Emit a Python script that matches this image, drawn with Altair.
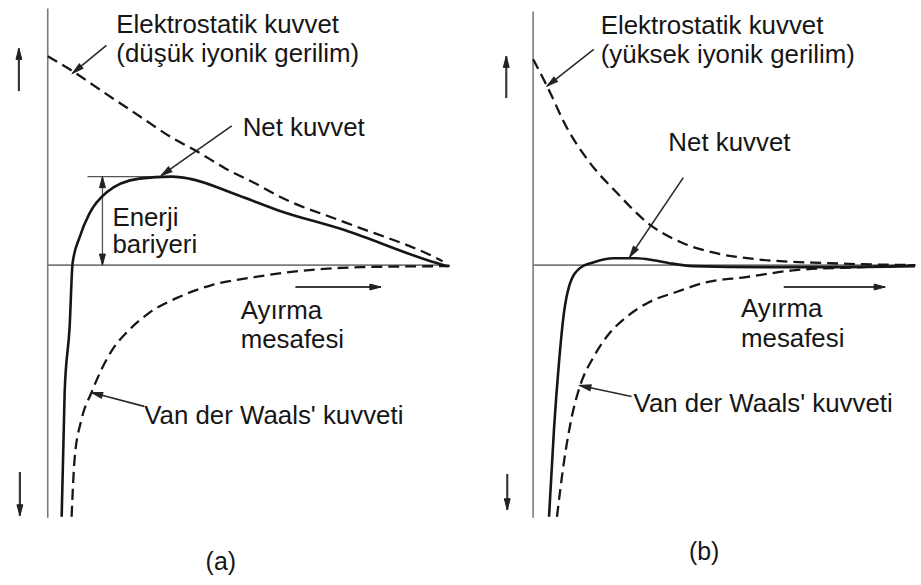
import math
import altair as alt
import pandas as pd

FONT = "Liberation Sans"
INK = "#161616"
AXIS_GREY = "#7a7a7a"

# Common vertical range: interaction energy (up = repulsion, down = attraction)
Y_DOMAIN = [-320, 265]

# ---------------- panel (a): low ionic strength ----------------
A_X_DOMAIN = [-48, 412]

a_elec_x = [0, 25, 59, 92, 125, 149, 179, 209, 235, 299, 389, 397]
a_elec_y = [210, 195, 172, 150, 128, 115, 97, 82, 68, 43, 8, 4]

a_net_x = [14, 17, 22, 25, 32, 42, 59, 92, 125, 142, 192, 232, 299, 382, 402]
a_net_y = [-253, -128, -62, 2, 28, 52, 73, 87, 89, 87, 70, 55, 35, 5, -1]

a_vdw_x = [24, 27, 34, 44, 54, 65, 82, 102, 132, 165, 202, 252, 315, 404]
a_vdw_y = [-253, -195, -155, -128, -105, -85, -65, -48, -32, -20, -13, -6, -2, -1]

a_axes = [(0, 258, 0, -254), (0, 0, 404, 0)]
a_barrier_top = [(40, 89, 127, 89)]
a_barrier_arrows = [(55, 45, 55, 89), (55, 45, 55, 0)]
a_leaders = [(59, 221, 25, 193), (185, 140, 114, 90), (97, -142, 44, -128)]
a_direction_arrows = [(-29, 175, -29, 218), (-28, -208, -28, -252), (249, -22, 335, -22)]

a_labels = ["Elektrostatik kuvvet", "(düşük iyonik gerilim)", "Net kuvvet",
            "Enerji", "bariyeri", "Ayırma", "mesafesi", "Van der Waals' kuvveti"]
a_label_x = [69, 69, 196, 65, 65, 194, 194, 97]
a_label_y = [233, 204, 130, 39, 12, -54, -83, -160]
a_caption = ("(a)", 174, -307)

# ---------------- panel (b): high ionic strength ----------------
B_X_DOMAIN = [-76, 385]

b_elec_x = [0, 14, 34, 57, 84, 117, 151, 184, 224, 297, 384]
b_elec_y = [207, 180, 138, 103, 73, 41, 22, 12, 6, 2, 0]

b_net_x = [16, 21, 26, 31, 36, 47, 61, 81, 104, 121, 137, 161, 231, 297, 384]
b_net_y = [-253, -165, -98, -48, -22, -3, 3, 7, 7, 5, 2, -1, -2, -2, -1]

b_vdw_x = [24, 31, 39, 47, 61, 74, 94, 117, 144, 171, 214, 264, 331, 384]
b_vdw_y = [-253, -198, -152, -122, -92, -72, -52, -37, -27, -18, -12, -5, -2, 0]

b_axes = [(0, 255, 0, -254), (0, 0, 385, 0)]
b_leaders = [(61, 217, 14, 180), (151, 88, 97, 8), (99, -132, 47, -121)]
b_direction_arrows = [(-27, 168, -27, 210), (-26, -210, -26, -246), (252, -22, 354, -22)]

b_labels = ["Elektrostatik kuvvet", "(yüksek iyonik gerilim)", "Net kuvvet",
            "Ayırma", "mesafesi", "Van der Waals' kuvveti"]
b_label_x = [68, 68, 136, 209, 209, 101]
b_label_y = [232, 203, 115, -52, -82, -148]
b_caption = ("(b)", 172, -296)

# arrowhead glyph with its tip at the anchor point, pointing up before rotation
ARROW_SHAPE = "M0,0L-0.4,1.5L0.4,1.5Z"


def segments_df(segs):
    return pd.DataFrame(segs, columns=["x", "y", "x2", "y2"])


def heads_df(segs):
    rows = []
    for x0, y0, x1, y1 in segs:
        ang = math.degrees(math.atan2(x1 - x0, y1 - y0)) % 360
        rows.append({"x": x1, "y": y1, "angle": ang})
    return pd.DataFrame(rows)


def curve_df(named):
    rows = []
    for name, xs, ys in named:
        for i, (x, y) in enumerate(zip(xs, ys)):
            rows.append({"series": name, "i": i, "x": x, "y": y})
    return pd.DataFrame(rows)


def panel(width, x_domain, elec, net, vdw, axes, thin_rules, double_arrows,
          leaders, dir_arrows, labels, caption):
    xs = alt.Scale(domain=x_domain, nice=False, zero=False)
    ys = alt.Scale(domain=Y_DOMAIN, nice=False, zero=False)
    X = alt.X("x:Q", scale=xs, axis=None)
    Y = alt.Y("y:Q", scale=ys, axis=None)

    def rules(segs, color, width_px):
        return alt.Chart(segments_df(segs)).mark_rule(
            color=color, strokeWidth=width_px
        ).encode(x=X, y=Y, x2="x2:Q", y2="y2:Q")

    layers = [rules(axes, AXIS_GREY, 1.6)]
    if thin_rules:
        layers.append(rules(thin_rules, "#555555", 1.3))
    if double_arrows:
        layers.append(rules([(double_arrows[0][2], double_arrows[0][3],
                              double_arrows[1][2], double_arrows[1][3])], "#555555", 1.3))
    layers.append(rules(leaders, "#2a2a2a", 1.6))
    layers.append(rules(dir_arrows, "#3a3a3a", 2.2))

    dashed = curve_df([("elec", *elec), ("vdw", *vdw)])
    layers.append(
        alt.Chart(dashed).mark_line(
            interpolate="monotone", color=INK, strokeWidth=2.3, strokeDash=[11, 6]
        ).encode(x=X, y=Y, detail="series:N", order="i:Q")
    )
    solid = curve_df([("net", *net)])
    layers.append(
        alt.Chart(solid).mark_line(
            interpolate="monotone", color=INK, strokeWidth=2.6
        ).encode(x=X, y=Y, order="i:Q")
    )

    all_heads = leaders + dir_arrows + (double_arrows or [])
    layers.append(
        alt.Chart(heads_df(all_heads)).mark_point(
            shape=ARROW_SHAPE, filled=True, fill="#222222", stroke="#222222",
            opacity=1, size=220, strokeWidth=1
        ).encode(x=X, y=Y, angle=alt.Angle("angle:Q", scale=None))
    )

    text_df = pd.DataFrame({"label": labels[0], "x": labels[1], "y": labels[2]})
    layers.append(
        alt.Chart(text_df).mark_text(
            align="left", baseline="alphabetic", font=FONT, fontSize=26, color=INK
        ).encode(x=X, y=Y, text="label:N")
    )
    cap_df = pd.DataFrame({"label": [caption[0]], "x": [caption[1]], "y": [caption[2]]})
    layers.append(
        alt.Chart(cap_df).mark_text(
            align="center", baseline="alphabetic", font=FONT, fontSize=25, color=INK
        ).encode(x=X, y=Y, text="label:N")
    )

    return alt.layer(*layers).properties(width=width, height=585)


panel_a = panel(
    460, A_X_DOMAIN,
    (a_elec_x, a_elec_y), (a_net_x, a_net_y), (a_vdw_x, a_vdw_y),
    a_axes, a_barrier_top, a_barrier_arrows, a_leaders, a_direction_arrows,
    (a_labels, a_label_x, a_label_y), a_caption,
)
panel_b = panel(
    461, B_X_DOMAIN,
    (b_elec_x, b_elec_y), (b_net_x, b_net_y), (b_vdw_x, b_vdw_y),
    b_axes, None, None, b_leaders, b_direction_arrows,
    (b_labels, b_label_x, b_label_y), b_caption,
)

chart = alt.hconcat(panel_a, panel_b, spacing=0).properties(
    padding=0, background="white"
).configure_view(stroke=None)

chart.save("out.html", embed_options={"renderer": "svg", "actions": False})
